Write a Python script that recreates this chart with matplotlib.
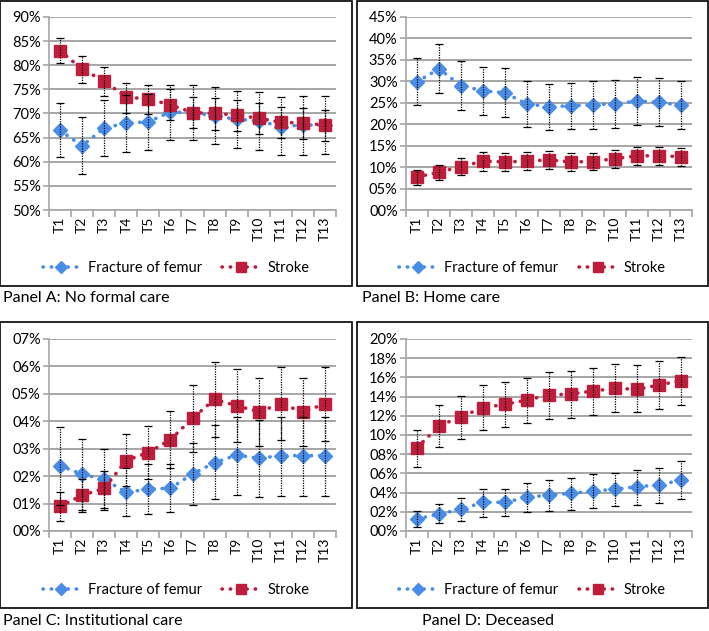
import matplotlib
matplotlib.use('Agg')
import numpy as np
from matplotlib import pyplot as plt
from matplotlib.patches import Rectangle
from matplotlib.ticker import FuncFormatter

plt.rcParams['font.family'] = ['Lato', 'DejaVu Sans']

periods = ['T1', 'T2', 'T3', 'T4', 'T5', 'T6', 'T7', 'T8', 'T9', 'T10', 'T11', 'T12', 'T13']

# Panel A: no formal care (%)
a_femur = [66.5, 63.3, 67.0, 68.0, 68.3, 70.3, 70.2, 69.5, 68.8, 68.5, 67.3, 67.6, 67.6]
a_femur_lo = [61.0, 57.5, 61.2, 62.0, 62.4, 64.6, 64.5, 63.6, 62.8, 62.4, 61.3, 61.5, 61.7]
a_femur_hi = [72.1, 69.2, 72.9, 73.8, 74.1, 76.0, 76.0, 75.4, 74.6, 74.4, 73.4, 73.6, 73.7]
a_stroke = [83.0, 79.2, 76.7, 73.4, 73.0, 71.8, 70.2, 70.0, 69.7, 69.0, 68.2, 68.0, 67.6]
a_stroke_lo = [80.4, 76.4, 73.7, 70.2, 69.8, 68.6, 67.0, 66.6, 66.3, 65.7, 64.9, 64.7, 64.2]
a_stroke_hi = [85.6, 82.0, 79.6, 76.4, 76.0, 75.0, 73.4, 73.2, 72.9, 72.1, 71.3, 71.1, 70.8]

# Panel B: home care (%)
b_femur = [29.9, 32.9, 29.0, 27.8, 27.3, 24.7, 24.1, 24.3, 24.5, 24.8, 25.4, 25.1, 24.4]
b_femur_lo = [24.4, 27.2, 23.3, 22.1, 21.6, 19.3, 18.7, 18.8, 19.0, 19.2, 19.8, 19.5, 18.8]
b_femur_hi = [35.4, 38.6, 34.7, 33.4, 33.0, 30.1, 29.4, 29.7, 30.0, 30.3, 31.1, 30.8, 30.0]
b_stroke = [7.7, 8.8, 10.1, 11.4, 11.2, 11.4, 11.7, 11.2, 11.3, 12.0, 12.6, 12.7, 12.4]
b_stroke_lo = [5.9, 6.9, 8.1, 9.2, 9.1, 9.3, 9.6, 9.1, 9.3, 9.9, 10.4, 10.5, 10.2]
b_stroke_hi = [9.3, 10.6, 12.1, 13.5, 13.3, 13.5, 13.8, 13.2, 13.4, 14.1, 14.7, 14.8, 14.5]

# Panel C: institutional care (%)
c_femur = [2.38, 2.07, 1.88, 1.41, 1.53, 1.56, 2.08, 2.49, 2.77, 2.65, 2.75, 2.75, 2.75]
c_femur_lo = [0.96, 0.77, 0.76, 0.55, 0.62, 0.68, 0.95, 1.15, 1.31, 1.25, 1.29, 1.29, 1.29]
c_femur_hi = [3.80, 3.35, 3.00, 2.28, 2.43, 2.44, 3.20, 3.86, 4.17, 4.05, 4.17, 4.17, 4.17]
c_stroke = [0.90, 1.30, 1.55, 2.57, 2.86, 3.33, 4.11, 4.80, 4.57, 4.35, 4.63, 4.35, 4.63]
c_stroke_lo = [0.38, 0.70, 0.85, 1.64, 1.88, 2.28, 2.87, 3.41, 3.26, 3.10, 3.32, 3.10, 3.29]
c_stroke_hi = [1.43, 1.90, 2.20, 3.52, 3.84, 4.38, 5.32, 6.15, 5.89, 5.59, 5.97, 5.59, 5.97]

# Panel D: deceased (%)
d_femur = [1.25, 1.77, 2.26, 2.99, 2.99, 3.50, 3.75, 3.92, 4.17, 4.34, 4.62, 4.79, 5.31]
d_femur_lo = [0.38, 0.80, 1.08, 1.49, 1.56, 1.98, 2.08, 2.22, 2.43, 2.60, 2.74, 2.95, 3.33]
d_femur_hi = [2.12, 2.81, 3.40, 4.38, 4.38, 5.03, 5.35, 5.49, 5.90, 6.08, 6.39, 6.53, 7.29]
d_stroke = [8.68, 10.94, 11.91, 12.85, 13.19, 13.65, 14.17, 14.27, 14.58, 14.86, 14.76, 15.21, 15.66]
d_stroke_lo = [6.70, 8.78, 9.58, 10.52, 10.87, 11.20, 11.70, 11.80, 12.08, 12.43, 12.36, 12.70, 13.13]
d_stroke_hi = [10.52, 13.10, 14.10, 15.20, 15.56, 15.97, 16.56, 16.63, 17.01, 17.36, 17.30, 17.70, 18.13]

panel_titles = ['Panel A: No formal care', 'Panel B: Home care',
                'Panel C: Institutional care', 'Panel D: Deceased']

BLUE = '#4A8DE6'
RED = '#BE1E3C'
GRID = '#A6A6A6'
DOTS = (0, (0.1, 2.2))  # round dots, Excel "round dot" look

W, H = 709, 631
fig = plt.figure(figsize=(W / 100, H / 100), dpi=100)


def px_axes(left, top, right, bottom):
    """ axes from pixel box (top-left origin) """
    return fig.add_axes([left / W, 1 - bottom / H, (right - left) / W, (bottom - top) / H])


def draw_panel(ax, femur, f_lo, f_hi, stroke, s_lo, s_hi, ymin, ymax, ystep):
    x = np.arange(len(periods))
    f = np.array(femur)
    s = np.array(stroke)
    ax.plot(x, f, linestyle=DOTS, dash_capstyle='round', color=BLUE, linewidth=2.6,
            marker='D', markersize=7, markerfacecolor=BLUE, markeredgecolor=BLUE,
            label='Fracture of femur', zorder=3)
    ax.plot(x, s, linestyle=DOTS, dash_capstyle='round', color=RED, linewidth=2.6,
            marker='s', markersize=8.5, markerfacecolor=RED, markeredgecolor=RED,
            label='Stroke', zorder=3)
    for vals, lo, hi in [(f, f_lo, f_hi), (s, s_lo, s_hi)]:
        err = [vals - np.array(lo), np.array(hi) - vals]
        eb = ax.errorbar(x, vals, yerr=err, fmt='none', ecolor='black', elinewidth=0.9,
                         capsize=3, capthick=0.9, zorder=4)
        eb[2][0].set_linestyle((0, (1, 1)))

    ax.set_xlim(-0.5, len(periods) - 0.5)
    ax.set_ylim(ymin, ymax)
    ax.set_yticks(np.arange(ymin, ymax + ystep / 2, ystep))
    ax.yaxis.set_major_formatter(FuncFormatter(lambda v, p: '{:02.0f}%'.format(v)))
    ax.grid(axis='y', color=GRID, linewidth=1.4)
    ax.set_axisbelow(True)
    ax.set_xticks(x)
    ax.set_xticklabels(periods, rotation=90)
    ax.set_xticks(np.arange(-0.5, len(periods)), minor=True)
    ax.tick_params(axis='x', which='major', length=0, pad=5, labelsize=10)
    ax.tick_params(axis='x', which='minor', length=5, color=GRID, width=1.2)
    ax.tick_params(axis='y', length=4, color=GRID, width=1.2, labelsize=10.5, pad=2)
    for side in ['top', 'right']:
        ax.spines[side].set_visible(False)
    for side in ['left', 'bottom']:
        ax.spines[side].set_color(GRID)
        ax.spines[side].set_linewidth(1.2)


boxes = [(0, 1, 352, 286), (357, 1, 708, 286), (0, 322, 352, 608), (357, 322, 708, 608)]
plots = [(49, 17, 336, 210), (406, 17, 692, 210), (49, 339, 336, 531), (406, 339, 692, 531)]
data = [
    (a_femur, a_femur_lo, a_femur_hi, a_stroke, a_stroke_lo, a_stroke_hi, 50, 90, 5),
    (b_femur, b_femur_lo, b_femur_hi, b_stroke, b_stroke_lo, b_stroke_hi, 0, 45, 5),
    (c_femur, c_femur_lo, c_femur_hi, c_stroke, c_stroke_lo, c_stroke_hi, 0, 7, 1),
    (d_femur, d_femur_lo, d_femur_hi, d_stroke, d_stroke_lo, d_stroke_hi, 0, 20, 2),
]
label_pos = [(3, 298), (362, 298), (3, 621), (422, 621)]

for i in range(4):
    bl, bt, br, bb = boxes[i]
    fig.patches.append(Rectangle((bl / W, 1 - bb / H), (br - bl) / W, (bb - bt) / H,
                                 transform=fig.transFigure, fill=False, edgecolor='black',
                                 linewidth=1.2))
    ax = px_axes(*plots[i])
    draw_panel(ax, *data[i])
    handles, labels = ax.get_legend_handles_labels()
    legend_y = bb - 18
    fig.legend(handles, labels, loc='center', bbox_to_anchor=((bl + br) / 2 / W, 1 - legend_y / H),
               ncol=2, frameon=False, fontsize=10.5, handlelength=2.6, handletextpad=0.5,
               columnspacing=1.4, markerscale=0.85)
    lx, ly = label_pos[i]
    fig.text(lx / W, 1 - ly / H, panel_titles[i], fontsize=11.5, ha='left', va='center')

fig.savefig('out.png', dpi=100)
